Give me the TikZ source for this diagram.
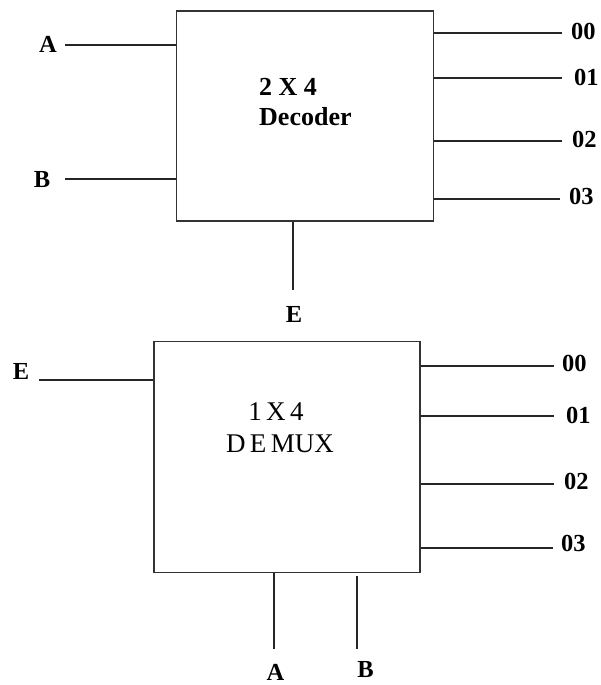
\documentclass[tikz,border=0pt]{standalone}
\usepackage{fontspec}
\setmainfont{Liberation Serif}
\begin{document}
\begin{tikzpicture}[x=1pt,y=-1pt,
  wire/.style={line width=1.2pt,black!85},
  blockbox/.style={draw=black!80,line width=1.3pt,inner sep=0pt},
  lbl/.style={font=\fontsize{24.5}{27}\selectfont\bfseries,inner sep=0pt},
  boxtext/.style={font=\fontsize{26}{29}\selectfont\bfseries,inner sep=0pt},
  boxtextr/.style={font=\fontsize{27}{30}\selectfont,inner sep=0pt}]
\useasboundingbox (0,0) rectangle (600,685);
% ---------- top: 2x4 decoder ----------
\node[blockbox,minimum width=257pt,minimum height=210pt] (dec) at (305,116) {};
\node[boxtext,anchor=west] (t1) at (259,87) {2 X 4};
\node[boxtext,anchor=west] (t2) at (259,117) {Decoder};
\coordinate (aend) at (65,45);
\coordinate (bend) at (65,179);
\node[lbl] (la) at (48,44) {A};
\node[lbl] (lb) at (42,180) {B};
\draw[wire] (aend) -- (aend -| dec.west);
\draw[wire] (bend) -- (bend -| dec.west);
\coordinate (o0) at (562,33);
\coordinate (o1) at (562,78);
\coordinate (o2) at (562,141);
\coordinate (o3) at (560,199);
\foreach \c in {o0,o1,o2,o3} \draw[wire] (\c -| dec.east) -- (\c);
\node[lbl,anchor=west] (l00) at (571,31) {00};
\node[lbl,anchor=west] (l01) at (574,77) {01};
\node[lbl,anchor=west] (l02) at (572,139) {02};
\node[lbl,anchor=west] (l03) at (569,196) {03};
\coordinate (eend) at (293,290);
\draw[wire] (eend |- dec.south) -- (eend);
\node[lbl] (le) at (294,314) {E};
% ---------- bottom: 1x4 demux ----------
\node[blockbox,minimum width=266pt,minimum height=231pt] (dmx) at (287,457) {};
\node[boxtextr] (t3) at (276,412) {1\,X\,4};
\node[boxtextr] (t4) at (280,444) {D\,E\,MUX};
\coordinate (e2end) at (39,380);
\draw[wire] (e2end) -- (e2end -| dmx.west);
\node[lbl] (le2) at (21,371) {E};
\coordinate (p0) at (554,366);
\coordinate (p1) at (554,416);
\coordinate (p2) at (554,484);
\coordinate (p3) at (553,548);
\foreach \c in {p0,p1,p2,p3} \draw[wire] (\c -| dmx.east) -- (\c);
\node[lbl,anchor=west] (m00) at (562,363) {00};
\node[lbl,anchor=west] (m01) at (566,415) {01};
\node[lbl,anchor=west] (m02) at (564,481) {02};
\node[lbl,anchor=west] (m03) at (561,543) {03};
\coordinate (aend2) at (274,649);
\coordinate (bend2) at (357,649);
\coordinate (btop2) at (357,576);
\draw[wire] (aend2 |- dmx.south) -- (aend2);
\draw[wire] (btop2) -- (bend2);
\node[lbl] (la2) at (275.5,672) {A};
\node[lbl] (lb2) at (365.5,670) {B};
\end{tikzpicture}
\end{document}
